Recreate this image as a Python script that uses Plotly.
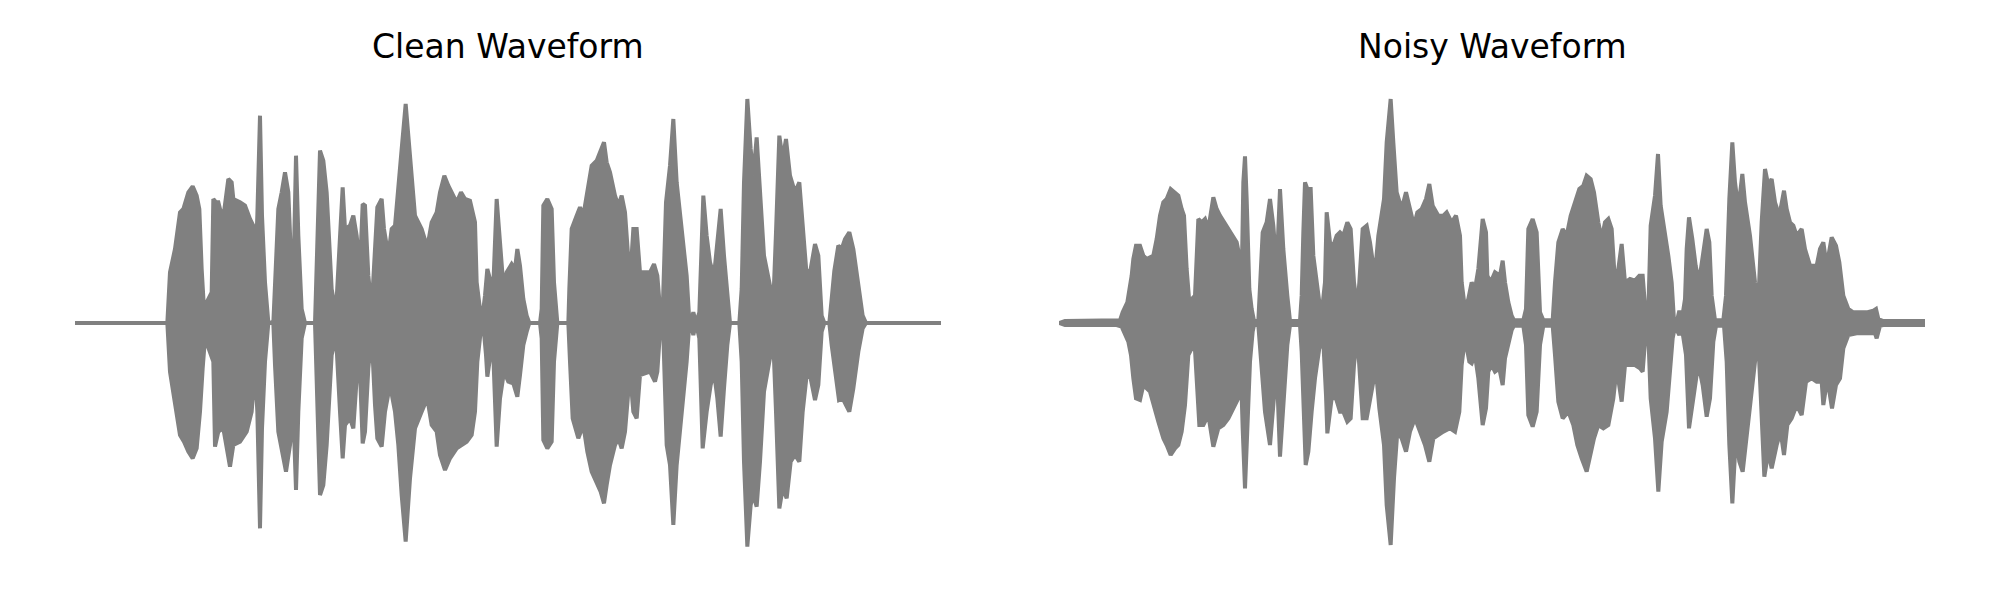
import plotly.graph_objects as go

# ---- Clean waveform envelope (time in ms, amplitude normalised) ----
clean_upper_ms = [0, 277, 285, 300, 315, 325, 340, 353, 365, 373, 380, 387, 395, 410, 415, 423, 430, 435, 445, 460, 470, 475, 495, 510, 525, 535, 540, 547, 555, 561, 570, 580, 595, 600, 610, 620, 630, 640, 650, 655, 663, 670, 680, 690, 720, 723, 730, 735, 745, 755, 770, 777, 785, 795, 803, 810,
                  825, 835, 845, 855, 863, 870, 880, 890, 900, 907, 920, 927, 940, 950, 960, 970, 980, 992, 1005, 1020, 1040, 1057, 1070, 1085, 1095, 1108, 1120, 1135, 1145, 1158, 1170, 1185, 1200, 1205, 1215, 1220, 1230, 1237, 1245, 1255, 1265, 1275, 1285, 1295, 1310, 1320, 1327, 1335, 1345, 1355, 1363, 1395, 1400, 1405, 1417, 1430, 1437, 1447, 1480, 1483, 1490, 1505, 1515, 1525, 1537, 1550, 1565, 1577, 1587, 1595, 1605, 1620, 1630, 1640, 1650, 1665, 1675, 1685,
                  1695, 1710, 1725, 1737, 1747, 1755, 1763, 1773, 1785, 1795, 1805, 1820, 1835, 1842, 1847, 1855, 1863, 1873, 1880, 1885, 1895, 1905, 1917, 1927, 1937, 1947, 1957, 1965, 1993, 2000, 2007, 2017, 2027, 2035, 2045, 2055, 2067, 2083, 2095, 2103, 2113, 2123, 2133, 2145, 2160, 2173, 2183, 2195, 2207, 2220, 2230, 2240, 2248, 2263, 2270, 2278, 2290, 2300, 2310, 2323, 2335, 2350, 2363, 2373, 2598]
clean_upper_amp = [0, 0, 0.152, 0.222, 0.332, 0.342, 0.392, 0.410, 0.382, 0.342, 0.162, 0.042, 0.062, 0.092, 0.372, 0.362, 0.362, 0.342, 0.317, 0.432, 0.422, 0.372, 0.362, 0.352, 0.312, 0.292, 0.132, 0.322, 0.622, 0.322, 0.122, 0.002, 0, 0.122, 0.342, 0.392, 0.452, 0.392, 0.142, 0.122, 0.502, 0.262, 0.042, 0, 0, 0.102, 0.422, 0.517, 0.487, 0.392, 0.102, 0.062, 0.072, 0.282, 0.407, 0.282,
                   0.292, 0.322, 0.262, 0.162, 0.357, 0.352, 0.142, 0.042, 0.242, 0.347, 0.372, 0.282, 0.202, 0.282, 0.292, 0.392, 0.522, 0.657, 0.502, 0.322, 0.282, 0.227, 0.302, 0.332, 0.392, 0.442, 0.412, 0.382, 0.362, 0.392, 0.372, 0.367, 0.302, 0.122, 0.022, 0, 0.082, 0.162, 0.132, 0.112, 0.372, 0.222, 0.112, 0.152, 0.177, 0.162, 0.222, 0.172, 0.072, 0.022, 0, 0, 0.042, 0.352, 0.372, 0.342, 0.122, 0, 0, 0.102, 0.282, 0.322, 0.347, 0.322, 0.392, 0.472, 0.487, 0.522, 0.542, 0.482, 0.452, 0.382, 0.352, 0.382, 0.332, 0.122, 0.282, 0.282,
                   0.152, 0.152, 0.152, 0.177, 0.142, 0.042, 0.032, 0.362, 0.472, 0.612, 0.422, 0.282, 0.142, 0.022, 0, 0.032, 0, 0.032, 0.222, 0.382, 0.262, 0.182, 0.142, 0.242, 0.342, 0.202, 0.082, 0, 0, 0.102, 0.422, 0.672, 0.522, 0.442, 0.557, 0.392, 0.202, 0.122, 0.062, 0.272, 0.562, 0.492, 0.552, 0.442, 0.392, 0.422, 0.292, 0.142, 0.162, 0.237, 0.202, 0.022, 0, 0, 0.072, 0.157, 0.232, 0.222, 0.252, 0.272, 0.222, 0.102, 0.022, 0, 0]

clean_lower_ms = [0, 277, 285, 300, 315, 327, 340, 353, 365, 375, 383, 390, 395, 405, 415, 420, 430, 445, 465, 475, 495, 515, 530, 540, 547, 555, 561, 570, 580, 595, 600, 610, 620, 633, 645, 655, 663, 670, 680, 690, 720, 723, 730, 735, 745, 755, 770, 777, 785, 795, 803, 810,
                  825, 835, 845, 855, 863, 870, 880, 890, 900, 907, 920, 930, 945, 960, 970, 980, 992, 1005, 1020, 1040, 1057, 1070, 1085, 1095, 1110, 1125, 1145, 1160, 1175, 1190, 1200, 1207, 1217, 1225, 1233, 1237, 1245, 1255, 1265, 1275, 1287, 1300, 1315, 1327, 1335, 1345, 1355, 1363, 1395, 1400, 1405, 1417, 1430, 1437, 1447, 1480, 1485, 1493, 1510, 1525, 1537, 1550, 1565, 1577, 1587, 1595, 1605, 1620, 1630, 1640, 1650, 1665, 1675, 1685,
                  1695, 1710, 1725, 1740, 1747, 1755, 1765, 1775, 1785, 1795, 1805, 1820, 1835, 1842, 1847, 1855, 1863, 1873, 1883, 1895, 1907, 1917, 1927, 1937, 1947, 1957, 1965, 1993, 2000, 2007, 2017, 2027, 2035, 2045, 2055, 2067, 2083, 2095, 2103, 2113, 2123, 2135, 2147, 2160, 2173, 2183, 2195, 2207, 2220, 2230, 2240, 2248, 2263, 2270, 2280, 2292, 2303, 2313, 2323, 2335, 2350, 2363, 2373, 2598]
clean_lower_amp = [0, 0, -0.146, -0.246, -0.336, -0.356, -0.386, -0.406, -0.376, -0.266, -0.136, -0.046, -0.056, -0.086, -0.116, -0.371, -0.326, -0.316, -0.431, -0.366, -0.356, -0.326, -0.266, -0.136, -0.266, -0.616, -0.316, -0.116, 0, 0, -0.126, -0.326, -0.386, -0.446, -0.366, -0.266, -0.501, -0.266, -0.046, 0, 0, -0.096, -0.366, -0.516, -0.486, -0.366, -0.096, -0.066, -0.076, -0.266, -0.406, -0.306,
                   -0.286, -0.316, -0.166, -0.146, -0.361, -0.326, -0.136, -0.036, -0.246, -0.346, -0.371, -0.266, -0.186, -0.266, -0.366, -0.516, -0.656, -0.466, -0.316, -0.266, -0.226, -0.306, -0.326, -0.396, -0.441, -0.406, -0.376, -0.366, -0.356, -0.336, -0.266, -0.116, -0.026, -0.006, -0.096, -0.161, -0.106, -0.096, -0.371, -0.226, -0.146, -0.176, -0.181, -0.221, -0.156, -0.066, -0.026, 0, 0, -0.046, -0.351, -0.376, -0.356, -0.116, 0, 0, -0.116, -0.286, -0.346, -0.306, -0.386, -0.446, -0.476, -0.506, -0.541, -0.486, -0.426, -0.366, -0.346, -0.376, -0.326, -0.146, -0.266, -0.286,
                   -0.156, -0.151, -0.146, -0.176, -0.146, -0.026, -0.036, -0.366, -0.426, -0.606, -0.426, -0.266, -0.116, -0.016, 0, -0.036, 0, -0.046, -0.376, -0.266, -0.186, -0.146, -0.226, -0.341, -0.196, -0.066, 0, 0, -0.116, -0.416, -0.671, -0.546, -0.516, -0.551, -0.416, -0.206, -0.116, -0.056, -0.266, -0.556, -0.496, -0.526, -0.416, -0.396, -0.416, -0.266, -0.156, -0.166, -0.231, -0.186, -0.026, 0, 0, -0.066, -0.146, -0.231, -0.226, -0.246, -0.266, -0.196, -0.086, -0.016, 0, 0]

# ---- Noisy waveform envelope ----
noisy_upper_ms = [0, 18, 183, 191, 205, 213, 218, 223, 231, 243, 253, 263, 273, 283, 293, 303, 313, 323, 335, 348, 358, 368, 375, 383, 391, 398, 408, 418, 428, 438, 448, 463, 473, 483, 493, 508, 521, 533, 541, 548, 553, 558, 563, 571, 578, 585, 598, 603, 611, 623, 633, 643, 653, 663, 673, 685, 693, 723, 728, 733, 738, 745, 755, 763, 773, 781, 791, 798, 803, 813, 823, 833,
                  843, 853, 865, 875, 885, 895, 901, 911, 923, 933, 943, 951, 958, 975, 983, 995, 1003, 1013, 1028, 1041, 1053, 1065, 1075, 1088, 1101, 1111, 1121, 1138, 1153, 1163, 1178, 1191, 1203, 1208, 1218, 1228, 1238, 1248, 1258, 1271, 1281, 1285, 1295, 1308, 1323, 1331, 1338, 1348, 1358, 1365, 1393, 1401, 1408, 1421, 1433, 1443, 1453, 1481, 1488, 1498, 1511, 1523, 1535, 1548, 1561, 1573, 1583, 1595, 1605, 1618, 1628, 1638, 1648, 1658, 1668, 1678, 1688, 1698,
                  1713, 1728, 1741, 1751, 1758, 1768, 1775, 1788, 1797, 1805, 1818, 1828, 1838, 1845, 1853, 1861, 1868, 1878, 1883, 1890, 1900, 1910, 1920, 1931, 1943, 1951, 1958, 1968, 1993, 2001, 2011, 2020, 2028, 2038, 2050, 2058, 2073, 2088, 2098, 2108, 2118, 2128, 2138, 2148, 2161, 2175, 2183, 2193, 2203, 2213, 2228, 2238, 2253, 2273, 2283, 2293, 2303, 2318, 2331, 2341, 2353, 2368, 2383, 2403, 2423, 2443, 2451, 2458, 2473, 2598]
noisy_upper_amp = [0, 0.006, 0.008, 0.032, 0.062, 0.102, 0.142, 0.192, 0.232, 0.232, 0.202, 0.192, 0.197, 0.202, 0.252, 0.322, 0.362, 0.372, 0.402, 0.392, 0.382, 0.342, 0.322, 0.162, 0.062, 0.072, 0.082, 0.312, 0.302, 0.312, 0.282, 0.377, 0.342, 0.322, 0.307, 0.282, 0.262, 0.242, 0.202, 0.122, 0.422, 0.500, 0.372, 0.102, 0.042, 0.006, 0.006, 0.102, 0.272, 0.302, 0.372, 0.292, 0.162, 0.402, 0.222, 0.082, 0.006, 0.006, 0.082, 0.272, 0.422, 0.402, 0.402, 0.202, 0.122, 0.062, 0.057, 0.122, 0.332, 0.242, 0.232, 0.262,
                   0.272, 0.262, 0.302, 0.282, 0.122, 0.042, 0.122, 0.282, 0.292, 0.242, 0.172, 0.182, 0.262, 0.372, 0.542, 0.672, 0.542, 0.392, 0.342, 0.392, 0.342, 0.292, 0.332, 0.342, 0.372, 0.417, 0.352, 0.322, 0.322, 0.332, 0.302, 0.322, 0.262, 0.122, 0.042, 0.072, 0.122, 0.102, 0.162, 0.312, 0.272, 0.142, 0.122, 0.152, 0.142, 0.187, 0.122, 0.062, 0.022, 0.008, 0.008, 0.042, 0.282, 0.312, 0.272, 0.032, 0.008, 0.008, 0.122, 0.242, 0.282, 0.262, 0.322, 0.362, 0.402, 0.412, 0.442, 0.432, 0.392, 0.302, 0.252, 0.302, 0.312, 0.282, 0.122, 0.162, 0.237, 0.122,
                   0.132, 0.127, 0.142, 0.142, 0.052, 0.032, 0.292, 0.382, 0.507, 0.352, 0.272, 0.202, 0.122, 0.007, 0.002, 0.037, 0.007, 0.072, 0.222, 0.317, 0.252, 0.172, 0.122, 0.202, 0.282, 0.242, 0.082, 0.008, 0.008, 0.082, 0.372, 0.542, 0.422, 0.342, 0.447, 0.362, 0.262, 0.122, 0.062, 0.302, 0.462, 0.412, 0.432, 0.362, 0.322, 0.397, 0.342, 0.302, 0.292, 0.262, 0.282, 0.222, 0.172, 0.172, 0.222, 0.242, 0.172, 0.257, 0.232, 0.182, 0.082, 0.042, 0.032, 0.032, 0.032, 0.037, 0.042, 0.012, 0.006, 0.006]

noisy_lower_ms = [0, 18, 173, 188, 198, 208, 216, 223, 231, 243, 253, 263, 273, 288, 298, 313, 323, 335, 348, 358, 368, 378, 388, 398, 408, 421, 433, 448, 463, 478, 493, 508, 523, 538, 545, 551, 558, 565, 573, 581, 585, 598, 605, 618, 633, 643, 653, 663, 673, 685, 693, 723, 728, 735, 740, 748, 758, 768, 781, 793, 801, 805, 818, 831,
                  843, 853, 865, 875, 885, 895, 903, 911, 923, 935, 943, 953, 961, 975, 983, 995, 1005, 1015, 1028, 1041, 1053, 1068, 1083, 1098, 1111, 1123, 1138, 1153, 1173, 1188, 1201, 1208, 1218, 1231, 1238, 1248, 1258, 1271, 1281, 1288, 1298, 1308, 1321, 1331, 1338, 1348, 1358, 1365, 1393, 1401, 1408, 1421, 1433, 1443, 1453, 1481, 1488, 1498, 1511, 1528, 1543, 1555, 1568, 1583, 1595, 1605, 1618, 1633, 1648, 1663, 1673, 1688, 1698,
                  1713, 1728, 1743, 1751, 1758, 1768, 1775, 1788, 1798, 1808, 1823, 1833, 1841, 1848, 1861, 1868, 1881, 1890, 1903, 1918, 1931, 1943, 1953, 1963, 1971, 1995, 2003, 2011, 2020, 2031, 2041, 2051, 2061, 2075, 2088, 2098, 2108, 2116, 2128, 2138, 2153, 2165, 2175, 2185, 2198, 2213, 2228, 2241, 2258, 2273, 2288, 2293, 2305, 2319, 2331, 2343, 2353, 2368, 2393, 2423, 2448, 2453, 2463, 2473, 2598]
noisy_lower_amp = [0, -0.006, -0.006, -0.011, -0.036, -0.056, -0.096, -0.166, -0.226, -0.231, -0.186, -0.196, -0.206, -0.256, -0.296, -0.346, -0.366, -0.396, -0.376, -0.366, -0.326, -0.246, -0.096, -0.076, -0.081, -0.306, -0.306, -0.276, -0.371, -0.316, -0.306, -0.286, -0.256, -0.226, -0.116, -0.316, -0.496, -0.316, -0.116, -0.026, -0.006, -0.006, -0.116, -0.266, -0.366, -0.266, -0.126, -0.401, -0.266, -0.066, -0.006, -0.006, -0.086, -0.266, -0.426, -0.386, -0.266, -0.166, -0.076, -0.056, -0.216, -0.331, -0.226, -0.226,
                   -0.266, -0.266, -0.296, -0.286, -0.126, -0.036, -0.146, -0.286, -0.286, -0.226, -0.176, -0.166, -0.256, -0.366, -0.546, -0.666, -0.466, -0.326, -0.346, -0.386, -0.326, -0.286, -0.326, -0.366, -0.416, -0.346, -0.336, -0.326, -0.316, -0.326, -0.266, -0.126, -0.046, -0.116, -0.121, -0.096, -0.166, -0.306, -0.256, -0.146, -0.126, -0.146, -0.136, -0.186, -0.106, -0.066, -0.021, -0.008, -0.008, -0.066, -0.276, -0.311, -0.266, -0.066, -0.008, -0.008, -0.096, -0.236, -0.286, -0.266, -0.306, -0.366, -0.406, -0.446, -0.386, -0.346, -0.306, -0.316, -0.306, -0.226, -0.136, -0.236, -0.126,
                   -0.126, -0.126, -0.136, -0.146, -0.056, -0.036, -0.226, -0.346, -0.506, -0.356, -0.266, -0.146, -0.046, -0.011, -0.036, -0.011, -0.096, -0.316, -0.226, -0.121, -0.186, -0.281, -0.226, -0.056, -0.008, -0.008, -0.116, -0.366, -0.541, -0.336, -0.416, -0.446, -0.346, -0.226, -0.116, -0.056, -0.266, -0.461, -0.386, -0.436, -0.366, -0.326, -0.396, -0.306, -0.286, -0.246, -0.276, -0.176, -0.166, -0.176, -0.176, -0.246, -0.166, -0.256, -0.186, -0.166, -0.076, -0.036, -0.031, -0.031, -0.031, -0.046, -0.008, -0.006, -0.006]

titles = ["Clean Waveform", "Noisy Waveform"]
GRAY = "#808080"
DURATION_MS = 2598

fig = go.Figure()

panels = [
    (clean_upper_ms, clean_upper_amp, clean_lower_ms, clean_lower_amp, "x", "y"),
    (noisy_upper_ms, noisy_upper_amp, noisy_lower_ms, noisy_lower_amp, "x2", "y2"),
]
for up_t, up_a, lo_t, lo_a, xa, ya in panels:
    xs = list(up_t) + list(reversed(lo_t))
    ys = list(up_a) + list(reversed(lo_a))
    fig.add_trace(go.Scatter(
        x=xs, y=ys, mode="lines", fill="toself", fillcolor=GRAY,
        line=dict(color=GRAY, width=4), xaxis=xa, yaxis=ya,
        hoverinfo="skip", showlegend=False,
    ))

ax_common = dict(visible=False, showgrid=False, zeroline=False, fixedrange=True)
fig.update_layout(
    width=2000, height=600,
    margin=dict(l=0, r=0, t=65, b=35),
    paper_bgcolor="white", plot_bgcolor="white",
    xaxis=dict(domain=[0.0335, 0.4665], range=[0, DURATION_MS], **ax_common),
    xaxis2=dict(domain=[0.5255, 0.9585], range=[0, DURATION_MS], **ax_common),
    yaxis=dict(range=[-0.75, 0.75], anchor="x", **ax_common),
    yaxis2=dict(range=[-0.75, 0.75], anchor="x2", **ax_common),
    font=dict(family="DejaVu Sans", color="black"),
)

for i, title in enumerate(titles):
    cx = 0.25 if i == 0 else 0.742
    fig.add_annotation(
        text=title, xref="paper", yref="paper", x=cx, y=1.053,
        xanchor="center", yanchor="middle", showarrow=False,
        font=dict(family="DejaVu Sans", size=33, color="black"),
    )

fig.write_html("out.html", config={"displayModeBar": False})
